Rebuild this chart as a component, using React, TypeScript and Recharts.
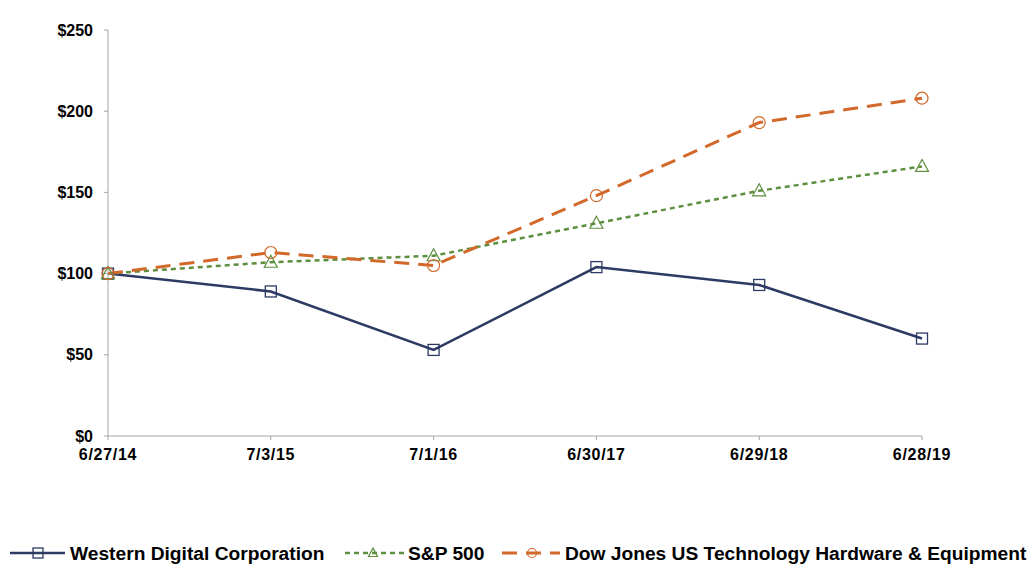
import React from 'react';
import { LineChart, Line, XAxis, YAxis } from 'recharts';

const dates = ['6/27/14', '7/3/15', '7/1/16', '6/30/17', '6/29/18', '6/28/19'];
const wdc = [100, 89, 53, 104, 93, 60];
const sp500 = [100, 107, 111, 131, 151, 166];
const djTech = [100, 113, 105, 148, 193, 208];
const yTicks = [0, 50, 100, 150, 200, 250];

const data = dates.map((d, i) => ({ date: d, wdc: wdc[i], sp: sp500[i], dj: djTech[i] }));

const NAVY = '#2c3a64';
const GREEN = '#5e8f3f';
const ORANGE = '#d2692a';
const AXIS = '#a6a6a6';
const FONT = '"Liberation Sans", Arial, sans-serif';

const Square = (props: any) => {
  const { cx, cy, key, size = 11 } = props;
  if (cx == null || cy == null) return null;
  return <rect key={key} x={cx - size / 2} y={cy - size / 2} width={size} height={size} fill="none" stroke={NAVY} strokeWidth={1.3} />;
};

const Triangle = (props: any) => {
  const { cx, cy, key, size = 1 } = props;
  if (cx == null || cy == null) return null;
  return (
    <path
      key={key}
      d={`M${cx},${cy - 7 * size} L${cx + 6.5 * size},${cy + 5 * size} L${cx - 6.5 * size},${cy + 5 * size} Z`}
      fill="none"
      stroke={GREEN}
      strokeWidth={1.2}
    />
  );
};

const Circle = (props: any) => {
  const { cx, cy, key, size = 6 } = props;
  if (cx == null || cy == null) return null;
  return <circle key={key} cx={cx} cy={cy} r={size} fill="none" stroke={ORANGE} strokeWidth={1.2} />;
};

const tickStyle = { fill: '#000', fontSize: 16, fontWeight: 700, fontFamily: FONT };
const legendText = { ...tickStyle, fontSize: 19.2 };

export default function App() {
  if (typeof document !== 'undefined') document.body.style.margin = '0';
  return (
    <div style={{ position: 'relative', width: 1036, height: 567, background: '#fff' }}>
      <LineChart width={1036} height={567} data={data} margin={{ top: 30, right: 114, left: 0, bottom: 91 }}>
        <XAxis
          dataKey="date"
          height={40}
          stroke={AXIS}
          tickSize={4}
          tickMargin={9}
          tick={{ ...tickStyle, letterSpacing: 0.7 }}
          interval={0}
        />
        <YAxis
          width={108}
          domain={[0, 250]}
          ticks={yTicks}
          stroke={AXIS}
          tickSize={4}
          tickMargin={11}
          tick={tickStyle}
          tickFormatter={(v) => `$${v}`}
        />
        <Line dataKey="wdc" stroke={NAVY} strokeWidth={2.5} dot={(p: any) => <Square {...p} />} isAnimationActive={false} />
        <Line dataKey="sp" stroke={GREEN} strokeWidth={2.5} strokeDasharray="5 4" dot={(p: any) => <Triangle {...p} />} isAnimationActive={false} />
        <Line dataKey="dj" stroke={ORANGE} strokeWidth={3} strokeDasharray="15 9" dot={(p: any) => <Circle {...p} />} isAnimationActive={false} />
      </LineChart>
      <svg width={1036} height={36} style={{ position: 'absolute', left: 0, top: 531 }}>
        <line x1={10} x2={65} y1={22} y2={22} stroke={NAVY} strokeWidth={2.5} />
        <Square cx={38} cy={22} size={10} />
        <text x={70} y={29} style={legendText}>Western Digital Corporation</text>
        <line x1={345} x2={405} y1={22} y2={22} stroke={GREEN} strokeWidth={2.5} strokeDasharray="5 4" />
        <Triangle cx={373} cy={22} size={0.7} />
        <text x={408} y={29} style={legendText}>S&amp;P 500</text>
        <line x1={502} x2={560} y1={22} y2={22} stroke={ORANGE} strokeWidth={3} strokeDasharray="15 9" />
        <Circle cx={532} cy={22} size={4.5} />
        <text x={565} y={29} style={legendText}>Dow Jones US Technology Hardware &amp; Equipment</text>
      </svg>
    </div>
  );
}
